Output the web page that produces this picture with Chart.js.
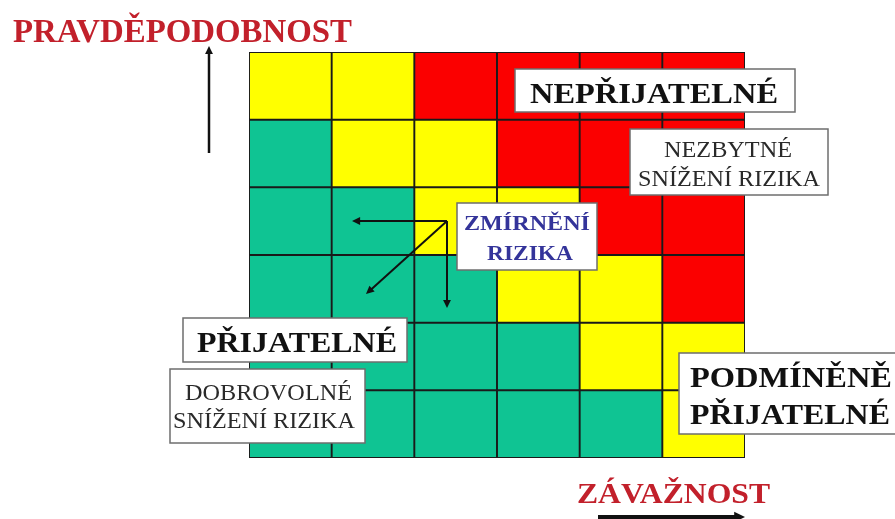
<!DOCTYPE html>
<html>
<head>
<meta charset="utf-8">
<script src="https://cdn.jsdelivr.net/npm/chart.js@4/dist/chart.umd.min.js"></script>
<style>
  html, body { margin: 0; padding: 0; background: #fff; }
  #box { width: 895px; height: 519px; }
</style>
</head>
<body>
<div id="box"><canvas id="myChart" width="895" height="519"></canvas></div>
<script>
// závažnost (sloupce) a pravděpodobnost (řádky, odspodu)
const zavaznost = ['1', '2', '3', '4', '5', '6'];
const pravdepodobnost = ['1', '2', '3', '4', '5', '6'];

// P = přijatelné, M = podmíněně přijatelné, N = nepřijatelné
const radek1 = ['P', 'P', 'P', 'P', 'P', 'M'];
const radek2 = ['P', 'P', 'P', 'P', 'M', 'M'];
const radek3 = ['P', 'P', 'P', 'M', 'M', 'N'];
const radek4 = ['P', 'P', 'M', 'M', 'N', 'N'];
const radek5 = ['P', 'M', 'M', 'N', 'N', 'N'];
const radek6 = ['M', 'M', 'N', 'N', 'N', 'N'];
const radky = [radek1, radek2, radek3, radek4, radek5, radek6];

const barvy = { P: '#0fc493', M: '#ffff00', N: '#fb0000' };

let datasets = radky.map((radek, i) => ({
  label: pravdepodobnost[i],
  data: zavaznost.map(() => [i, i + 1]),
  backgroundColor: radek.map(z => barvy[z]),
  borderColor: '#1a1a1a',
  borderWidth: 1.3,
  borderSkipped: false,
  grouped: false,
  barPercentage: 1,
  categoryPercentage: 1
}));

function napis(ctx, text, x1, x2, baseline, font, color) {
  ctx.font = font;
  let w = ctx.measureText(text).width;
  ctx.save();
  ctx.translate(x1, baseline);
  ctx.scale((x2 - x1) / w, 1);
  ctx.fillStyle = color;
  ctx.textBaseline = 'alphabetic';
  ctx.fillText(text, 0, 0);
  ctx.restore();
}

function ramecek(ctx, x1, y1, x2, y2) {
  ctx.fillStyle = '#fff';
  ctx.fillRect(x1, y1, x2 - x1, y2 - y1);
  ctx.strokeStyle = '#6e6e6e';
  ctx.lineWidth = 1.5;
  ctx.strokeRect(x1, y1, x2 - x1, y2 - y1);
}

function sipka(ctx, x1, y1, x2, y2, sirka, hlava) {
  let a = Math.atan2(y2 - y1, x2 - x1);
  ctx.strokeStyle = '#111';
  ctx.fillStyle = '#111';
  ctx.lineWidth = sirka;
  ctx.beginPath();
  ctx.moveTo(x1, y1);
  ctx.lineTo(x2 - Math.cos(a) * hlava * 0.6, y2 - Math.sin(a) * hlava * 0.6);
  ctx.stroke();
  ctx.beginPath();
  ctx.moveTo(x2, y2);
  ctx.lineTo(x2 - hlava * Math.cos(a - 0.45), y2 - hlava * Math.sin(a - 0.45));
  ctx.lineTo(x2 - hlava * Math.cos(a + 0.45), y2 - hlava * Math.sin(a + 0.45));
  ctx.closePath();
  ctx.fill();
}

const popisky = {
  id: 'popisky',
  afterDraw(chart) {
    let ctx = chart.ctx;
    let serif = '"Liberation Serif", "DejaVu Serif", serif';
    let cervena = '#c2202b';

    napis(ctx, 'PRAVDĚPODOBNOST', 13, 352, 42, 'bold 34px ' + serif, cervena);
    sipka(ctx, 209, 153, 209, 46, 2.5, 9);

    napis(ctx, 'ZÁVAŽNOST', 577, 770, 503, 'bold 30px ' + serif, cervena);
    sipka(ctx, 598, 517, 745, 517, 4, 12);

    // šipky zmírnění
    sipka(ctx, 447, 221, 352, 221, 2, 9);
    sipka(ctx, 447, 221, 366, 294, 2, 9);
    sipka(ctx, 447, 221, 447, 308, 2, 9);

    ramecek(ctx, 515, 69, 795, 112);
    napis(ctx, 'NEPŘIJATELNÉ', 530, 778, 103, 'bold 30px ' + serif, '#111');

    ramecek(ctx, 630, 129, 828, 195);
    napis(ctx, 'NEZBYTNÉ', 664, 792, 157, '24px ' + serif, '#2a2a2a');
    napis(ctx, 'SNÍŽENÍ RIZIKA', 638, 820, 186, '24px ' + serif, '#2a2a2a');

    ramecek(ctx, 457, 203, 597, 270);
    napis(ctx, 'ZMÍRNĚNÍ', 464, 590, 230, 'bold 22px ' + serif, '#34349a');
    napis(ctx, 'RIZIKA', 487, 573, 260, 'bold 22px ' + serif, '#34349a');

    ramecek(ctx, 183, 318, 407, 362);
    napis(ctx, 'PŘIJATELNÉ', 197, 397, 352, 'bold 30px ' + serif, '#111');

    ramecek(ctx, 170, 369, 365, 443);
    napis(ctx, 'DOBROVOLNÉ', 185, 352, 400, '24px ' + serif, '#2a2a2a');
    napis(ctx, 'SNÍŽENÍ RIZIKA', 173, 355, 428, '24px ' + serif, '#2a2a2a');

    ramecek(ctx, 679, 353, 897, 434);
    napis(ctx, 'PODMÍNĚNĚ', 690, 892, 387, 'bold 30px ' + serif, '#111');
    napis(ctx, 'PŘIJATELNÉ', 690, 890, 424, 'bold 30px ' + serif, '#111');
  }
};

let ctx = document.getElementById('myChart').getContext('2d');
new Chart(ctx, {
  type: 'bar',
  data: { labels: zavaznost, datasets: datasets },
  options: {
    responsive: false,
    animation: false,
    layout: { padding: { left: 249, right: 150, top: 52, bottom: 61 } },
    plugins: { legend: { display: false }, tooltip: { enabled: false } },
    scales: {
      x: { display: false },
      y: { display: false, min: 0, max: 6 }
    }
  },
  plugins: [popisky]
});
</script>
</body>
</html>
